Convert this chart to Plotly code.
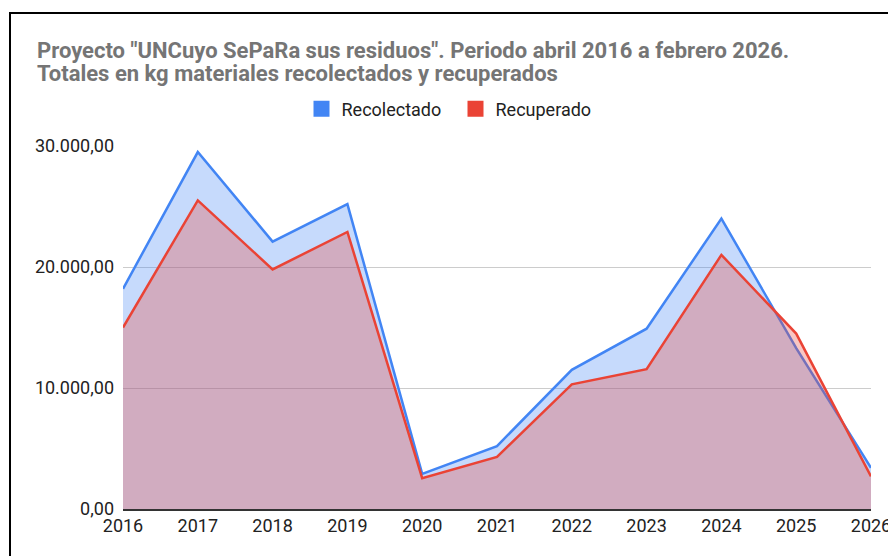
import plotly.graph_objects as go

years = [2016, 2017, 2018, 2019, 2020, 2021, 2022, 2023, 2024, 2025, 2026]
recolectado = [18200, 29500, 22100, 25200, 2900, 5200, 11500, 14900, 24000, 13300, 3400]
recuperado = [15000, 25500, 19800, 22900, 2550, 4300, 10300, 11550, 21000, 14500, 2700]
y_ticks = [0, 10000, 20000, 30000]
title_lines = ['Proyecto "UNCuyo SePaRa sus residuos". Periodo abril 2016 a febrero 2026.',
               'Totales en kg materiales recolectados y recuperados']
series_names = ["Recolectado", "Recuperado"]
colors = ["#4285F4", "#EA4335"]
fills = ["rgba(66,133,244,0.30)", "rgba(234,67,53,0.30)"]

W, H = 888, 556
L, R, T, B = 123, 17, 146, 47
pw, ph = W - L - R, H - T - B

def px_x(p):
    return (p - L) / pw

def px_y(p):
    return (H - B - p) / ph

fig = go.Figure()
for name, vals, c, f in zip(series_names, [recolectado, recuperado], colors, fills):
    fig.add_trace(go.Scatter(x=years, y=vals, mode="lines", fill="tozeroy",
                             fillcolor=f, line=dict(color=c, width=2.5),
                             name=name, showlegend=False, hoverinfo="x+y"))
for name, c in zip(series_names, colors):
    fig.add_trace(go.Scatter(x=[None], y=[None], mode="markers",
                             marker=dict(symbol="square", size=16, color=c),
                             name=name, showlegend=True))

font_family = "Roboto, Arial, sans-serif"
title_font = dict(family=font_family, size=22, color="#757575", weight="bold")
annotations = [
    dict(text=title_lines[0], x=px_x(35), y=px_y(51), xref="paper", yref="paper",
         xanchor="left", yanchor="middle", showarrow=False, font=title_font),
    dict(text=title_lines[1], x=px_x(35), y=px_y(73), xref="paper", yref="paper",
         xanchor="left", yanchor="middle", showarrow=False, font=title_font),
]

fig.update_layout(
    width=W, height=H,
    margin=dict(l=L, r=R, t=T, b=B, autoexpand=False),
    paper_bgcolor="white", plot_bgcolor="white",
    separators=",.",
    font=dict(family=font_family, size=18, color="#222222"),
    annotations=annotations,
    legend=dict(orientation="h", x=px_x(455.5), xanchor="center", y=px_y(109),
                yanchor="middle", font=dict(size=18, color="#222222"),
                entrywidth=109, entrywidthmode="pixels",
                bgcolor="rgba(0,0,0,0)", itemclick=False),
    xaxis=dict(range=[2016, 2026], tickvals=years, showgrid=False, zeroline=False,
               showline=True, linecolor="#333333", linewidth=1.5,
               ticks="", ticklabeloverflow="allow",
               tickfont=dict(size=18, color="#222222")),
    yaxis=dict(range=[0, 30000], tickvals=y_ticks, tickformat=",.2f",
               showgrid=True, gridcolor="#cccccc", gridwidth=1, zeroline=False,
               ticks="", ticklabelstandoff=8, tickfont=dict(size=18, color="#222222")),
    shapes=[dict(type="rect", xref="paper", yref="paper",
                 x0=px_x(10), x1=px_x(950), y0=px_y(620), y1=px_y(13),
                 line=dict(color="black", width=2), fillcolor="rgba(0,0,0,0)",
                 layer="above")],
)
fig.write_html("out.html", config={"displayModeBar": False},
               post_script="document.body.style.margin='0';document.body.style.overflow='hidden';")
